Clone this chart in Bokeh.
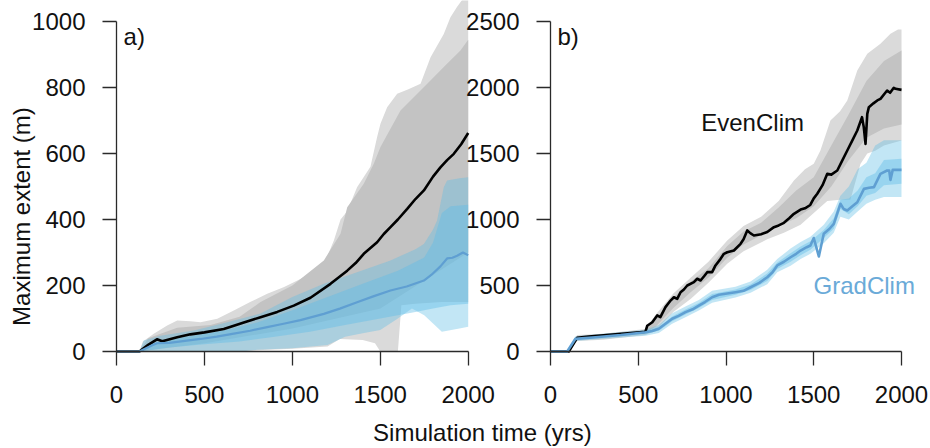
from math import pi
from bokeh.plotting import figure
from bokeh.models import Range1d, FixedTicker, Label, LinearAxis
from bokeh.embed import file_html
from bokeh.resources import INLINE

# ---------------- data ----------------
X_TICKS = [0, 500, 1000, 1500, 2000]
A_Y_TICKS = [0, 200, 400, 600, 800, 1000]
B_Y_TICKS = [0, 500, 1000, 1500, 2000, 2500]

# Panel a)
a_even_line = [(0, 0), (130, 0), (180, 20), (230, 37), (260, 31), (345, 43), (420, 52), (500, 58),
               (610, 68), (650, 75), (724, 88), (819, 104), (914, 120), (1008, 139), (1103, 163),
               (1217, 205), (1312, 245), (1360, 268), (1406, 296), (1482, 331), (1520, 356),
               (1558, 377), (1600, 400), (1653, 432), (1700, 462), (1748, 488), (1800, 530),
               (1842, 558), (1880, 580), (1918, 599), (1960, 628), (2000, 662)]
a_grad_line = [(0, 0), (130, 0), (200, 18), (231, 25), (300, 26), (400, 33), (478, 38), (570, 45),
               (667, 54), (760, 63), (857, 74), (950, 84), (1046, 95), (1179, 114), (1270, 130),
               (1368, 149), (1460, 167), (1558, 185), (1650, 197), (1748, 215), (1790, 232),
               (1842, 258), (1880, 282), (1910, 284), (1937, 290), (1970, 300), (2000, 292)]
a_even_outer_hi = [(130, 0), (150, 30), (212, 54), (288, 79), (345, 94), (420, 92), (478, 89),
                   (573, 99), (667, 124), (760, 150), (857, 175), (950, 195), (1046, 220),
                   (1160, 255), (1200, 290), (1236, 336), (1274, 400), (1312, 425), (1368, 498),
                   (1444, 560), (1482, 650), (1501, 690), (1539, 740), (1596, 781), (1660, 795),
                   (1729, 811), (1786, 892), (1861, 962), (1899, 1013), (1937, 1045), (2000, 1090)]
a_even_outer_lo = [(130, 0), (700, 0), (800, 4), (1000, 8), (1200, 15), (1270, 38), (1400, 35),
                   (1470, 25), (1500, 0), (1600, 0), (1620, 140), (1700, 145), (1850, 150), (2000, 150)]
a_even_inner_hi = [(130, 0), (180, 40), (345, 72), (535, 80), (700, 105), (819, 150), (1000, 200),
                   (1179, 276), (1274, 357), (1312, 437), (1406, 508), (1463, 569), (1501, 620),
                   (1615, 730), (1767, 811), (1861, 862), (1956, 912), (2000, 945)]
a_even_inner_lo = [(130, 0), (500, 25), (1000, 70), (1500, 130), (2000, 300)]
a_grad_outer_hi = [(130, 0), (155, 33), (250, 48), (440, 64), (630, 89), (819, 115), (1000, 165),
                   (1179, 205), (1368, 240), (1558, 276), (1700, 310), (1748, 326), (1800, 370),
                   (1823, 397), (1861, 498), (1880, 518), (1950, 525), (2000, 528)]
a_grad_outer_lo = [(130, 0), (700, 0), (800, 5), (1000, 10), (1200, 20), (1300, 45), (1400, 55),
                   (1500, 65), (1600, 100), (1680, 130), (1750, 110), (1850, 60), (1950, 70), (2000, 75)]
a_grad_inner_hi = [(130, 0), (200, 25), (400, 45), (600, 62), (800, 88), (1000, 125), (1200, 165),
                   (1400, 205), (1600, 245), (1750, 285), (1800, 330), (1850, 420), (1900, 440), (2000, 445)]
a_grad_inner_lo = [(130, 0), (300, 12), (500, 22), (700, 30), (900, 45), (1100, 60), (1300, 80),
                   (1500, 100), (1700, 120), (1800, 130), (1900, 140), (2000, 145)]

# Panel b)
b_even_line = [(0, 0), (104, 0), (152, 104), (218, 114), (541, 150), (551, 195), (580, 222),
               (608, 273), (626, 260), (655, 336), (684, 386), (703, 411), (722, 399), (741, 449),
               (760, 470), (779, 500), (817, 525), (836, 551), (855, 538), (875, 570), (893, 601),
               (921, 601), (940, 652), (969, 702), (988, 740), (1007, 752), (1045, 765), (1083, 816),
               (1100, 850), (1121, 917), (1140, 895), (1159, 879), (1200, 888), (1235, 905),
               (1273, 942), (1300, 955), (1330, 975), (1360, 1010), (1387, 1043), (1425, 1075),
               (1450, 1085), (1480, 1110), (1500, 1160), (1520, 1195), (1550, 1260), (1577, 1346),
               (1600, 1340), (1634, 1371), (1660, 1440), (1691, 1523), (1720, 1600), (1748, 1674),
               (1775, 1775), (1785, 1700), (1795, 1573), (1805, 1800), (1814, 1851), (1840, 1880),
               (1862, 1902), (1880, 1914), (1918, 1977), (1935, 1960), (1956, 1998), (1966, 1990),
               (2000, 1982)]
b_grad_line = [(0, 0), (95, 0), (142, 96), (256, 108), (400, 125), (541, 146), (580, 155), (617, 172),
               (655, 210), (693, 248), (730, 270), (769, 298), (810, 320), (845, 348), (880, 375),
               (921, 411), (960, 430), (997, 437), (1054, 449), (1100, 460), (1140, 487), (1190, 520),
               (1235, 563), (1265, 600), (1292, 652), (1330, 680), (1368, 714), (1400, 740),
               (1425, 765), (1460, 790), (1481, 803), (1500, 860), (1529, 720), (1557, 892),
               (1590, 930), (1614, 967), (1652, 1119), (1670, 1080), (1691, 1068), (1720, 1100),
               (1748, 1131), (1786, 1232), (1815, 1240), (1843, 1245), (1880, 1346), (1918, 1371),
               (1930, 1370), (1937, 1300), (1950, 1376), (2000, 1376)]
b_even_outer_hi = [(104, 0), (152, 125), (300, 135), (541, 170), (600, 280), (700, 440), (800, 560),
                   (900, 680), (1007, 841), (1100, 950), (1200, 1020), (1300, 1140), (1387, 1295),
                   (1450, 1380), (1500, 1422), (1538, 1523), (1595, 1750), (1650, 1820), (1691, 1902),
                   (1748, 2129), (1805, 2255), (1880, 2331), (1937, 2407), (1980, 2440), (2000, 2440)]
b_even_outer_lo = [(104, 0), (152, 80), (300, 90), (541, 125), (600, 160), (700, 300), (800, 400),
                   (900, 520), (1007, 665), (1100, 760), (1235, 850), (1330, 900), (1425, 960),
                   (1500, 1050), (1577, 1140), (1650, 1150), (1709, 1150), (1766, 1420), (1805, 1500),
                   (1850, 1520), (1900, 1560), (2000, 1598)]
b_even_inner_hi = [(104, 0), (152, 115), (541, 160), (600, 250), (700, 410), (800, 530), (900, 630),
                   (1007, 800), (1100, 910), (1200, 975), (1300, 1090), (1400, 1220), (1500, 1320),
                   (1600, 1560), (1700, 1800), (1800, 2050), (1900, 2200), (2000, 2280)]
b_even_inner_lo = [(104, 0), (152, 95), (541, 140), (600, 190), (700, 330), (800, 450), (900, 560),
                   (1007, 710), (1100, 810), (1200, 880), (1300, 950), (1400, 1010), (1500, 1100),
                   (1600, 1250), (1700, 1450), (1800, 1620), (1900, 1690), (2000, 1720)]
b_grad_outer_hi = [(95, 0), (142, 115), (541, 165), (617, 200), (693, 290), (769, 340), (845, 390),
                   (921, 460), (1054, 490), (1140, 530), (1235, 620), (1292, 700), (1368, 780),
                   (1425, 830), (1481, 870), (1557, 960), (1614, 1060), (1652, 1180), (1700, 1250),
                   (1750, 1380), (1800, 1430), (1850, 1560), (1900, 1600), (2000, 1600)]
b_grad_outer_lo = [(95, 0), (142, 80), (541, 120), (617, 140), (693, 210), (769, 260), (845, 310),
                   (921, 370), (1054, 410), (1140, 445), (1235, 510), (1292, 600), (1368, 650),
                   (1425, 700), (1481, 740), (1557, 820), (1614, 900), (1652, 1020), (1700, 1000),
                   (1750, 1060), (1800, 1120), (1850, 1150), (1900, 1170), (2000, 1170)]
b_grad_inner_hi = [(95, 0), (142, 105), (541, 155), (617, 185), (693, 265), (769, 318), (845, 368),
                   (921, 435), (1054, 470), (1140, 508), (1235, 590), (1292, 675), (1368, 745),
                   (1425, 795), (1481, 835), (1557, 920), (1614, 1010), (1652, 1150), (1700, 1160),
                   (1750, 1220), (1800, 1320), (1850, 1350), (1900, 1450), (2000, 1460)]
b_grad_inner_lo = [(95, 0), (142, 90), (541, 135), (617, 158), (693, 230), (769, 280), (845, 330),
                   (921, 390), (1054, 430), (1140, 465), (1235, 535), (1292, 625), (1368, 680),
                   (1425, 730), (1481, 770), (1557, 860), (1614, 930), (1652, 1080), (1700, 1040),
                   (1750, 1100), (1800, 1180), (1850, 1200), (1900, 1260), (2000, 1270)]

# ---------------- styling ----------------
FONT = "Liberation Sans"
FS = "24px"
W, H = 930, 448
GRAY_OUT = "#dadada"
GRAY_IN = "#c3c3c3"
BLUE_BAND = "#5fbde6"
BLUE_LINE = "#5f9fd2"
BLUE_TEXT = "#6aaad8"
AX = "#2a2a2a"

# The single plot frame fills the whole canvas; each panel gets its own
# pair of ranges so that its axes land where the reference has them.
p = figure(width=W, height=H,
           x_range=Range1d(-659.7, 4628.9), y_range=Range1d(-293.9, 1063.6),
           output_backend="svg", toolbar_location=None,
           x_axis_location=None, y_axis_location=None,
           min_border_left=0, min_border_right=0, min_border_top=0, min_border_bottom=0)
p.extra_x_ranges = {"b": Range1d(-3133.9, 2165.2)}
p.extra_y_ranges = {"b": Range1d(-734.8, 2659.1)}
p.grid.visible = False
p.outline_line_color = None


def band(hi, lo, color, alpha=1.0, rn="default"):
    xs = [t for t, _ in hi] + [t for t, _ in reversed(lo)]
    ys = [v for _, v in hi] + [v for _, v in reversed(lo)]
    p.patch(xs, ys, fill_color=color, fill_alpha=alpha, line_color=None,
            x_range_name=rn, y_range_name=rn)


def line(pts, color, width, rn="default"):
    p.line([t for t, _ in pts], [v for _, v in pts], line_color=color, line_width=width,
           line_join="round", x_range_name=rn, y_range_name=rn)


def axis(side, ticks, bounds, standoff, rn="default"):
    ax = LinearAxis(x_range_name=rn, y_range_name=rn, fixed_location=0,
                    ticker=FixedTicker(ticks=ticks), bounds=bounds)
    ax.axis_line_color = AX
    ax.axis_line_width = 1.3
    ax.major_tick_line_color = AX
    ax.major_tick_line_width = 1.3
    ax.major_tick_out = 14
    ax.major_tick_in = 0
    ax.minor_tick_out = 0
    ax.minor_tick_in = 0
    ax.major_label_text_font = FONT
    ax.major_label_text_font_size = FS
    ax.major_label_text_color = "#111111"
    ax.major_label_standoff = standoff
    p.add_layout(ax, side)


def txt(x, y, s, color="#111111", align="left", baseline="alphabetic", angle=0.0, rn="default"):
    p.add_layout(Label(x=x, y=y, text=s, text_font=FONT, text_font_size=FS, text_color=color,
                       text_align=align, text_baseline=baseline, angle=angle,
                       x_range_name=rn, y_range_name=rn))


# ---------------- panel a ----------------
band(a_even_outer_hi, a_even_outer_lo, GRAY_OUT)
band(a_even_inner_hi, a_even_inner_lo, GRAY_IN)
band(a_grad_outer_hi, a_grad_outer_lo, BLUE_BAND, 0.38)
band(a_grad_inner_hi, a_grad_inner_lo, BLUE_BAND, 0.42)
line(a_even_line, "black", 2.6)
line(a_grad_line, BLUE_LINE, 2.2)
axis("below", X_TICKS, (0, 2000), 20)
axis("left", A_Y_TICKS, (0, 1000), 17)
txt(40, 954, "a)")
txt(-543, 409, "Maximum extent (m)", align="center", baseline="middle", angle=pi / 2)
txt(2081, -245.5, "Simulation time (yrs)", align="center")

# ---------------- panel b ----------------
band(b_even_outer_hi, b_even_outer_lo, GRAY_OUT, rn="b")
band(b_even_inner_hi, b_even_inner_lo, GRAY_IN, rn="b")
band(b_grad_outer_hi, b_grad_outer_lo, BLUE_BAND, 0.38, rn="b")
band(b_grad_inner_hi, b_grad_inner_lo, BLUE_BAND, 0.42, rn="b")
line(b_even_line, "black", 2.6, rn="b")
line(b_grad_line, BLUE_LINE, 2.6, rn="b")
axis("below", X_TICKS, (0, 2000), 20, rn="b")
axis("left", B_Y_TICKS, (0, 2500), 17, rn="b")
txt(40, 2387, "b)", rn="b")
txt(859, 1735, "EvenClim", rn="b")
txt(1499, 500, "GradClim", color=BLUE_TEXT, rn="b")

open("out.html", "w").write(file_html(p, INLINE))
